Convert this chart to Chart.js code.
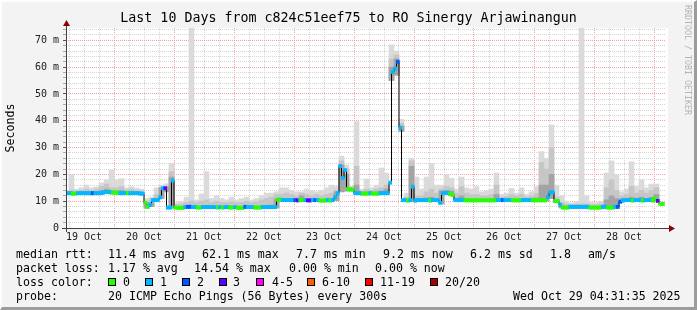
<!DOCTYPE html>
<html>
<head>
<meta charset="utf-8">
<title>SmokePing - RO Sinergy Arjawinangun</title>
<script src="https://cdn.jsdelivr.net/npm/chart.js@4.4.1/dist/chart.umd.min.js"></script>
<style>
  body { margin: 0; background: #f3f3f3; }
  #wrap { position: relative; width: 697px; height: 310px; overflow: hidden; background: #f3f3f3;
          font-family: 'DejaVu Sans Mono', monospace; }
  #graph { position: absolute; left: 0; top: 0; }
  #frame { position: absolute; left: 0; top: 0; width: 697px; height: 310px; box-sizing: border-box;
           border-style: solid; border-width: 2px 3px 3px 2px;
           border-color: #fdfdfd #9c9c9c #9c9c9c #fdfdfd; pointer-events: none; }
  .lg { position: absolute; font-size: 11.6px; line-height: 14px; color: #000; white-space: pre; }
  .box { position: absolute; top: 278px; width: 6px; height: 6px; border: 1px solid #000; }
  #credit { position: absolute; left: 683px; top: 5px; writing-mode: vertical-rl;
            font-size: 8.3px; line-height: 10px; color: #b4b4b4; }
</style>
</head>
<body>
<div id="wrap">
  <canvas id="graph" width="697" height="310"></canvas>

  <!-- legend block under the graph -->
  <div class="lg" style="left:16px;top:247px">median rtt:</div>
  <div class="lg" style="left:108px;top:247px">11.4 ms avg</div>
  <div class="lg" style="left:202px;top:247px">62.1 ms max</div>
  <div class="lg" style="left:296px;top:247px">7.7 ms min</div>
  <div class="lg" style="left:383px;top:247px">9.2 ms now</div>
  <div class="lg" style="left:470px;top:247px">6.2 ms sd</div>
  <div class="lg" style="left:550px;top:247px">1.8</div>
  <div class="lg" style="left:588px;top:247px">am/s</div>

  <div class="lg" style="left:16px;top:261px">packet loss:</div>
  <div class="lg" style="left:108px;top:261px">1.17 % avg</div>
  <div class="lg" style="left:194px;top:261px">14.54 % max</div>
  <div class="lg" style="left:289px;top:261px">0.00 % min</div>
  <div class="lg" style="left:375px;top:261px">0.00 % now</div>

  <div class="lg" style="left:16px;top:275px">loss color:</div>
  <div id="losslegend"></div>

  <div class="lg" style="left:16px;top:289px">probe:</div>
  <div class="lg" style="left:108px;top:289px">20 ICMP Echo Pings (56 Bytes) every 300s</div>
  <div class="lg" style="left:513px;top:289px">Wed Oct 29 04:31:35 2025</div>

  <div id="credit">RRDTOOL / TOBI OETIKER</div>
  <div id="frame"></div>
</div>

<script>
// ----------------------------------------------------------
// Data (hours counted from 19 Oct 00:00)
// ----------------------------------------------------------
const X_MIN = 4.8;
const X_MAX = 244.8;
const Y_MAX = 74.6;

const DAY_LABEL_HOURS = [12, 36, 60, 84, 108, 132, 156, 180, 204, 228];
const DAY_LABELS = ["19 Oct", "20 Oct", "21 Oct", "22 Oct", "23 Oct",
                    "24 Oct", "25 Oct", "26 Oct", "27 Oct", "28 Oct"];

const Y_LABEL_VALUES = [0, 10, 20, 30, 40, 50, 60, 70];
const Y_LABELS = ["0", "10 m", "20 m", "30 m", "40 m", "50 m", "60 m", "70 m"];

const LOSS_NAMES = ["0", "1", "2", "3", "4-5", "6-10", "11-19", "20/20"];
const LOSS_COLORS = ["#26ff00", "#00b8ff", "#0059ff", "#5e00ff",
                     "#ff00ff", "#ff5e00", "#ff0000", "#a10000"];

// median rtt (ms), one value per hour, first hour starts 19 Oct 04:00
const MEDIAN = [
  13.0,13.0,13.0,12.8,12.8,13.0,13.0,13.0,13.0,13.0,13.0,13.0,13.0,13.0,13.0,13.2,
  13.4,13.4,13.4,13.2,13.2,13.2,13.0,13.0,13.0,13.0,13.0,13.0,13.0,13.0,12.9,12.8,
  9.4,7.9,8.6,10.4,10.4,10.4,11.4,14.8,14.8,7.6,7.6,17.7,7.6,
  7.5,7.5,7.5,7.8,7.9,7.9,7.8,7.8,7.6,7.6,
  7.8,7.8,7.8,7.8,7.8,7.8,7.6,7.8,7.6,7.8,
  7.8,7.6,7.6,7.8,7.5,7.5,7.5,7.9,7.8,7.8,
  7.8,7.6,7.6,7.6,7.8,7.8,7.8,7.8,7.8,7.8,
  10.6,10.6,10.4,10.4,10.4,10.4,10.4,10.4,10.3,10.4,10.4,10.4,10.3,10.3,10.4,10.4,10.4,10.2,10.2,10.2,10.4,10.2,10.4,
  11.5,13.0,23.1,18.6,21.6,14.5,14.4,14.4,13.0,13.0,13.0,12.8,12.8,12.8,13.0,12.8,12.8,12.8,13.0,13.0,13.0,13.0,
  16.9,58.2,59.5,62.0,37.4,10.4,10.4,10.2,10.4,15.4,
  10.2,10.4,10.4,10.4,10.4,10.4,10.2,10.4,10.4,10.4,
  9.4,13.0,13.1,13.1,12.8,12.3,10.4,
  10.4,10.4,10.4,
  10.3,10.3,10.3,10.3,10.3,10.3,10.3,10.3,10.3,10.3,10.3,10.3,10.3,
  10.4,10.4,10.4,10.4,10.4,10.4,
  10.3,10.3,10.3,10.3,
  10.4,10.4,10.4,10.4,
  10.3,10.3,10.3,10.3,10.3,10.3,
  11.5,13.3,13.3,10.0,10.0,8.7,7.6,7.6,7.6,
  7.9,7.9,7.9,7.9,7.9,7.9,7.9,7.9,
  7.6,7.6,7.6,7.6,7.6,7.9,7.9,7.6,7.6,7.6,7.9,7.9,9.8,
  10.4,10.4,10.4,10.4,10.2,10.4,10.4,10.4,10.2,10.4,10.4,10.4,10.2,11.1,10.1,9.0,9.0
];

// packet loss class per hour (index into LOSS_COLORS)
const LOSS = [
  1,1,1,0,0,1,1,1,1,1,1,2,1,1,1,1,
  1,1,1,0,0,0,1,1,1,0,1,1,1,1,1,1,
  0,0,1,1,1,1,1,1,3,1,1,1,0,
  0,0,0,1,2,2,1,1,0,0, 1,1,1,1,1,1,0,1,0,1, 1,0,0,1,0,0,0,2,1,1, 1,0,0,0,1,1,1,1,1,1,
  0,0,1,1,1,1,1,2,3,0,0,1,3,3,1,2,1,0,0,0,1,0,1,
  1,1,1,1,1,0,0,0,1,1,1,0,0,0,1,0,0,0,1,1,1,1,
  1,1,1,2,1,1,1,0,1,1, 1,1,1,1,1,1,0,1,1,1, 1,1,1,1,0,0,1,
  1,1,1, 0,0,0,0,0,0,0,0,0,0,0,0,0, 1,1,2,1,1,1, 0,0,0,0, 1,1,1,1, 0,0,0,0,0,0,
  1,1,1,0,0,1,0,0,0, 1,1,1,1,1,1,1,1, 0,0,0,0,0, 1,1, 0,0,0, 1, 2, 2,
  1,1,1,1, 0, 1,1,1, 0, 1,1,1, 0, 0, 3, 0, 0
];

// smoke (ms), one value per two hours, first bin starts 19 Oct 04:00
const SMOKE_LO = [
  12.5,12.5,12.5,12.5,12.4,12.4,12.4,12.5,12.8,12.7,12.6,12.6,12.5,12.5,12.5,12.3,
  7.4,8.0,10.0,11.0,13.5,7.4,
  7.3,7.3,7.4,7.4,7.4,7.4,7.4,7.4,7.4,7.3,7.4,7.3,7.2,7.2,7.3,7.3,7.2,7.3,7.4,7.5,
  7.5,10.0,10.0,10.0,10.0,10.0,10.0,10.0,9.9,9.9,9.9,10.0,
  10.2,13.5,13.8,13.8,12.6,12.6,12.6,12.6,12.6,12.6,12.7,55.0,57.0,
  36.0,9.9,9.9,9.9,9.9,9.9,9.9,9.9,9.0,12.6,12.0,
  10.0,10.0,10.0,10.0,10.0,10.0,10.0,10.0,10.0,10.0,10.0,10.0,10.0,10.0,10.0,10.0,10.0,10.0,10.0,11.0,
  9.5,7.5,7.3,7.3,7.3,7.3,7.3,7.3,7.3,7.2,7.2,7.2,7.3,
  9.5,10.0,10.0,10.0,10.0,10.0,10.0,10.0,8.7
];
const SMOKE_HI = [
  14.0,20.0,14.5,15.0,16.0,15.0,15.3,16.8,17.9,21.6,17.9,18.4,15.0,15.4,14.9,14.5,
  11.0,11.5,15.0,16.0,16.5,24.0,
  9.5,10.0,11.5,74.6,10.5,12.7,21.0,11.0,12.0,11.0,10.5,11.5,10.5,11.0,11.5,10.5,11.0,12.0,13.0,13.0,
  13.5,15.0,15.0,14.0,13.5,13.5,14.5,14.0,13.5,14.0,15.0,16.0,
  15.5,26.8,23.5,15.5,39.7,14.5,18.3,15.0,16.0,22.4,20.5,68.3,66.0,
  40.5,13.0,26.0,19.0,14.5,19.0,24.1,16.0,16.0,20.0,18.5,
  14.5,19.0,15.0,14.5,15.4,13.5,14.0,14.5,20.5,12.5,13.0,14.8,13.0,15.0,12.5,13.5,15.4,28.5,26.0,38.4,
  16.0,12.0,10.0,9.3,9.8,74.6,12.0,9.5,9.5,10.0,20.5,25.0,20.0,
  13.5,14.5,24.7,15.5,17.9,15.0,16.4,16.4,9.5
];
const SMOKE_MID = [
  13.6,14.0,13.8,14.0,14.5,14.0,14.5,15.5,16.4,15.0,15.0,15.5,14.2,14.5,14.0,13.8,
  10.0,10.5,12.5,15.0,15.6,21.0,
  8.8,9.0,9.5,10.0,9.5,10.0,10.5,9.5,10.0,9.6,9.5,9.8,9.5,9.5,10.0,9.5,9.8,10.5,11.0,11.5,
  12.5,12.5,13.0,12.5,12.0,13.0,12.5,12.0,12.5,12.0,12.5,13.0,
  14.0,25.0,22.0,15.0,23.0,13.8,14.5,14.0,14.5,15.0,16.0,63.0,64.5,
  39.0,11.5,25.0,12.0,12.0,13.5,14.5,13.0,14.5,15.5,15.0,
  13.0,15.5,13.0,12.5,12.5,12.0,12.0,12.5,16.0,11.5,11.8,12.5,12.0,12.5,11.5,12.0,12.8,24.5,22.0,30.0,
  11.5,9.5,9.0,8.8,8.8,9.0,9.0,8.8,8.8,9.0,15.0,18.0,14.0,
  12.0,12.5,15.5,13.0,14.0,13.0,14.0,15.0,9.3
];
const SMOKE_DARK = [
  13.3,13.5,13.3,13.4,13.5,13.4,13.5,14.0,14.5,14.0,13.8,14.0,13.5,13.5,13.4,13.2,
  9.5,9.5,11.0,15.0,15.4,19.0,
  8.1,8.1,8.2,8.3,8.1,8.2,8.4,8.1,8.2,8.1,8.1,8.2,8.1,8.1,8.2,8.1,8.1,8.3,8.4,8.6,
  10.8,10.9,11.0,10.8,10.8,12.0,11.0,10.8,10.8,10.8,10.9,11.0,
  13.5,23.5,20.0,14.6,16.0,13.3,13.5,13.4,13.5,13.8,14.5,60.0,63.0,
  38.0,10.8,23.0,11.0,10.8,11.2,11.5,10.9,13.8,14.0,13.8,
  11.2,12.0,11.0,10.8,10.9,10.8,10.8,10.9,12.5,10.8,10.8,10.9,10.8,10.9,10.8,10.9,11.2,16.0,16.0,20.0,
  10.5,8.5,8.2,8.1,8.1,8.2,8.2,8.1,8.1,8.2,10.5,12.0,11.0,
  10.8,10.9,11.5,11.0,11.5,11.0,11.5,12.5,9.1
];

// ----------------------------------------------------------
// Helpers
// ----------------------------------------------------------
const FONT = "'DejaVu Sans Mono', monospace";

// bin centres in hours
const HOUR_CENTRES = MEDIAN.map((v, j) => 4.5 + j);
const SMOKE_CENTRES = SMOKE_HI.map((v, i) => 5 + 2 * i);

function smokeLayer(tops) {
    return SMOKE_CENTRES.map((h, i) => ({ x: h, y: [SMOKE_LO[i], tops[i]] }));
}

// grid: every 6 hours on x, every 2 ms on y
const X_GRID = [];
for (let h = 6; h <= 240; h += 6) X_GRID.push(h);
const Y_GRID = [];
for (let v = 0; v <= 74; v += 2) Y_GRID.push(v);

// loss colour legend
const lossBox = document.getElementById("losslegend");
const BOX_LEFT = [108, 145, 182, 219, 256, 307, 365, 430];
const NAME_LEFT = [123, 160, 197, 233, 272, 322, 380, 445];
LOSS_NAMES.forEach((name, k) => {
    lossBox.insertAdjacentHTML("beforeend",
        `<div class="box" style="left:${BOX_LEFT[k]}px;background:${LOSS_COLORS[k]}"></div>` +
        `<div class="lg" style="left:${NAME_LEFT[k]}px;top:275px">${name}</div>`);
});

// white plot background
const plotBackground = {
    id: "plotBackground",
    beforeDraw(chart) {
        const { ctx, chartArea: a } = chart;
        ctx.save();
        ctx.fillStyle = "#ffffff";
        ctx.fillRect(a.left, a.top, a.right - a.left + 2, a.bottom - a.top);
        ctx.restore();
    }
};

// axis lines with rrdtool style arrows
const axisArrows = {
    id: "axisArrows",
    afterDraw(chart) {
        const { ctx, chartArea: a } = chart;
        ctx.save();
        ctx.strokeStyle = "#404040";
        ctx.lineWidth = 1;
        ctx.beginPath();
        ctx.moveTo(a.left + 0.5, a.bottom + 4);
        ctx.lineTo(a.left + 0.5, a.top - 4);
        ctx.moveTo(a.left - 4, a.bottom + 0.5);
        ctx.lineTo(a.right + 4, a.bottom + 0.5);
        ctx.stroke();
        ctx.fillStyle = "#8b0000";
        ctx.beginPath();
        ctx.moveTo(a.left - 3, a.top - 2);
        ctx.lineTo(a.left + 4, a.top - 2);
        ctx.lineTo(a.left + 0.5, a.top - 8);
        ctx.closePath();
        ctx.fill();
        ctx.beginPath();
        ctx.moveTo(a.right + 3, a.bottom - 3);
        ctx.lineTo(a.right + 3, a.bottom + 4);
        ctx.lineTo(a.right + 9, a.bottom + 0.5);
        ctx.closePath();
        ctx.fill();
        ctx.restore();
    }
};

// ----------------------------------------------------------
// Chart
// ----------------------------------------------------------
const ctx = document.getElementById("graph").getContext("2d");

new Chart(ctx, {
    type: "bar",
    data: {
        datasets: [
            {
                label: "smoke",
                data: smokeLayer(SMOKE_HI),
                backgroundColor: "#dadada",
                barThickness: 5,
                grouped: false,
                order: 5
            },
            {
                label: "smoke mid",
                data: smokeLayer(SMOKE_MID),
                backgroundColor: "#c6c6c6",
                barThickness: 5,
                grouped: false,
                order: 4
            },
            {
                label: "smoke dark",
                data: smokeLayer(SMOKE_DARK),
                backgroundColor: "#a4a4a4",
                barThickness: 5,
                grouped: false,
                order: 3
            },
            {
                type: "line",
                label: "median step",
                data: HOUR_CENTRES.map((h, j) => ({ x: h, y: MEDIAN[j] })),
                borderColor: "#000000",
                borderWidth: 1,
                stepped: "middle",
                pointRadius: 0,
                order: 1
            },
            {
                label: "median rtt",
                data: HOUR_CENTRES.map((h, j) => ({ x: h, y: [MEDIAN[j] - 0.6, MEDIAN[j] + 0.6] })),
                backgroundColor: LOSS.map(l => LOSS_COLORS[l]),
                barThickness: 3,
                grouped: false,
                order: 0
            }
        ]
    },
    options: {
        responsive: false,
        animation: false,
        devicePixelRatio: 1,
        layout: { padding: 0 },
        plugins: {
            legend: { display: false },
            tooltip: { enabled: false },
            title: {
                display: true,
                text: "Last 10 Days from c824c51eef75 to RO Sinergy Arjawinangun",
                color: "#000000",
                font: { family: FONT, size: 13.3, weight: "normal" },
                padding: { top: 11, bottom: 1 }
            }
        },
        scales: {
            x: {
                type: "linear",
                min: X_MIN,
                max: X_MAX,
                offset: false,
                afterBuildTicks: scale => { scale.ticks = X_GRID.map(v => ({ value: v })); },
                afterFit: scale => { scale.height = 82; },
                grid: {
                    offset: false,
                    drawTicks: false,
                    color: c => (c.tick && c.tick.value % 24 === 0) ? "#ff9c9c" : "#d4d4d4"
                },
                border: { display: false, dash: [1, 1] },
                ticks: {
                    autoSkip: false,
                    maxRotation: 0,
                    minRotation: 0,
                    padding: 3,
                    color: "#202020",
                    font: { family: FONT, size: 10 },
                    callback: value => {
                        const k = DAY_LABEL_HOURS.indexOf(value);
                        return k >= 0 ? DAY_LABELS[k] : "";
                    }
                }
            },
            y: {
                min: 0,
                max: Y_MAX,
                afterBuildTicks: scale => { scale.ticks = Y_GRID.map(v => ({ value: v })); },
                afterFit: scale => { scale.width = 66; },
                grid: {
                    tickLength: 3,
                    color: c => (c.tick && c.tick.value % 10 === 0) ? "#ff9c9c" : "#d4d4d4",
                    tickColor: c => (c.tick && c.tick.value % 10 === 0) ? "#555555" : "#aaaaaa"
                },
                border: { display: false, dash: [1, 1] },
                ticks: {
                    autoSkip: false,
                    padding: 4,
                    color: "#202020",
                    font: { family: FONT, size: 10 },
                    callback: value => {
                        const k = Y_LABEL_VALUES.indexOf(value);
                        return k >= 0 ? Y_LABELS[k] : "";
                    }
                },
                title: {
                    display: true,
                    text: "Seconds",
                    color: "#000000",
                    font: { family: FONT, size: 11.6 },
                    padding: { top: 4, bottom: 0 }
                }
            },
            yRight: {
                position: "right",
                display: true,
                grid: { display: false },
                border: { display: false },
                ticks: { display: false },
                afterFit: scale => { scale.width = 31; }
            }
        }
    },
    plugins: [plotBackground, axisArrows]
});
</script>
</body>
</html>
